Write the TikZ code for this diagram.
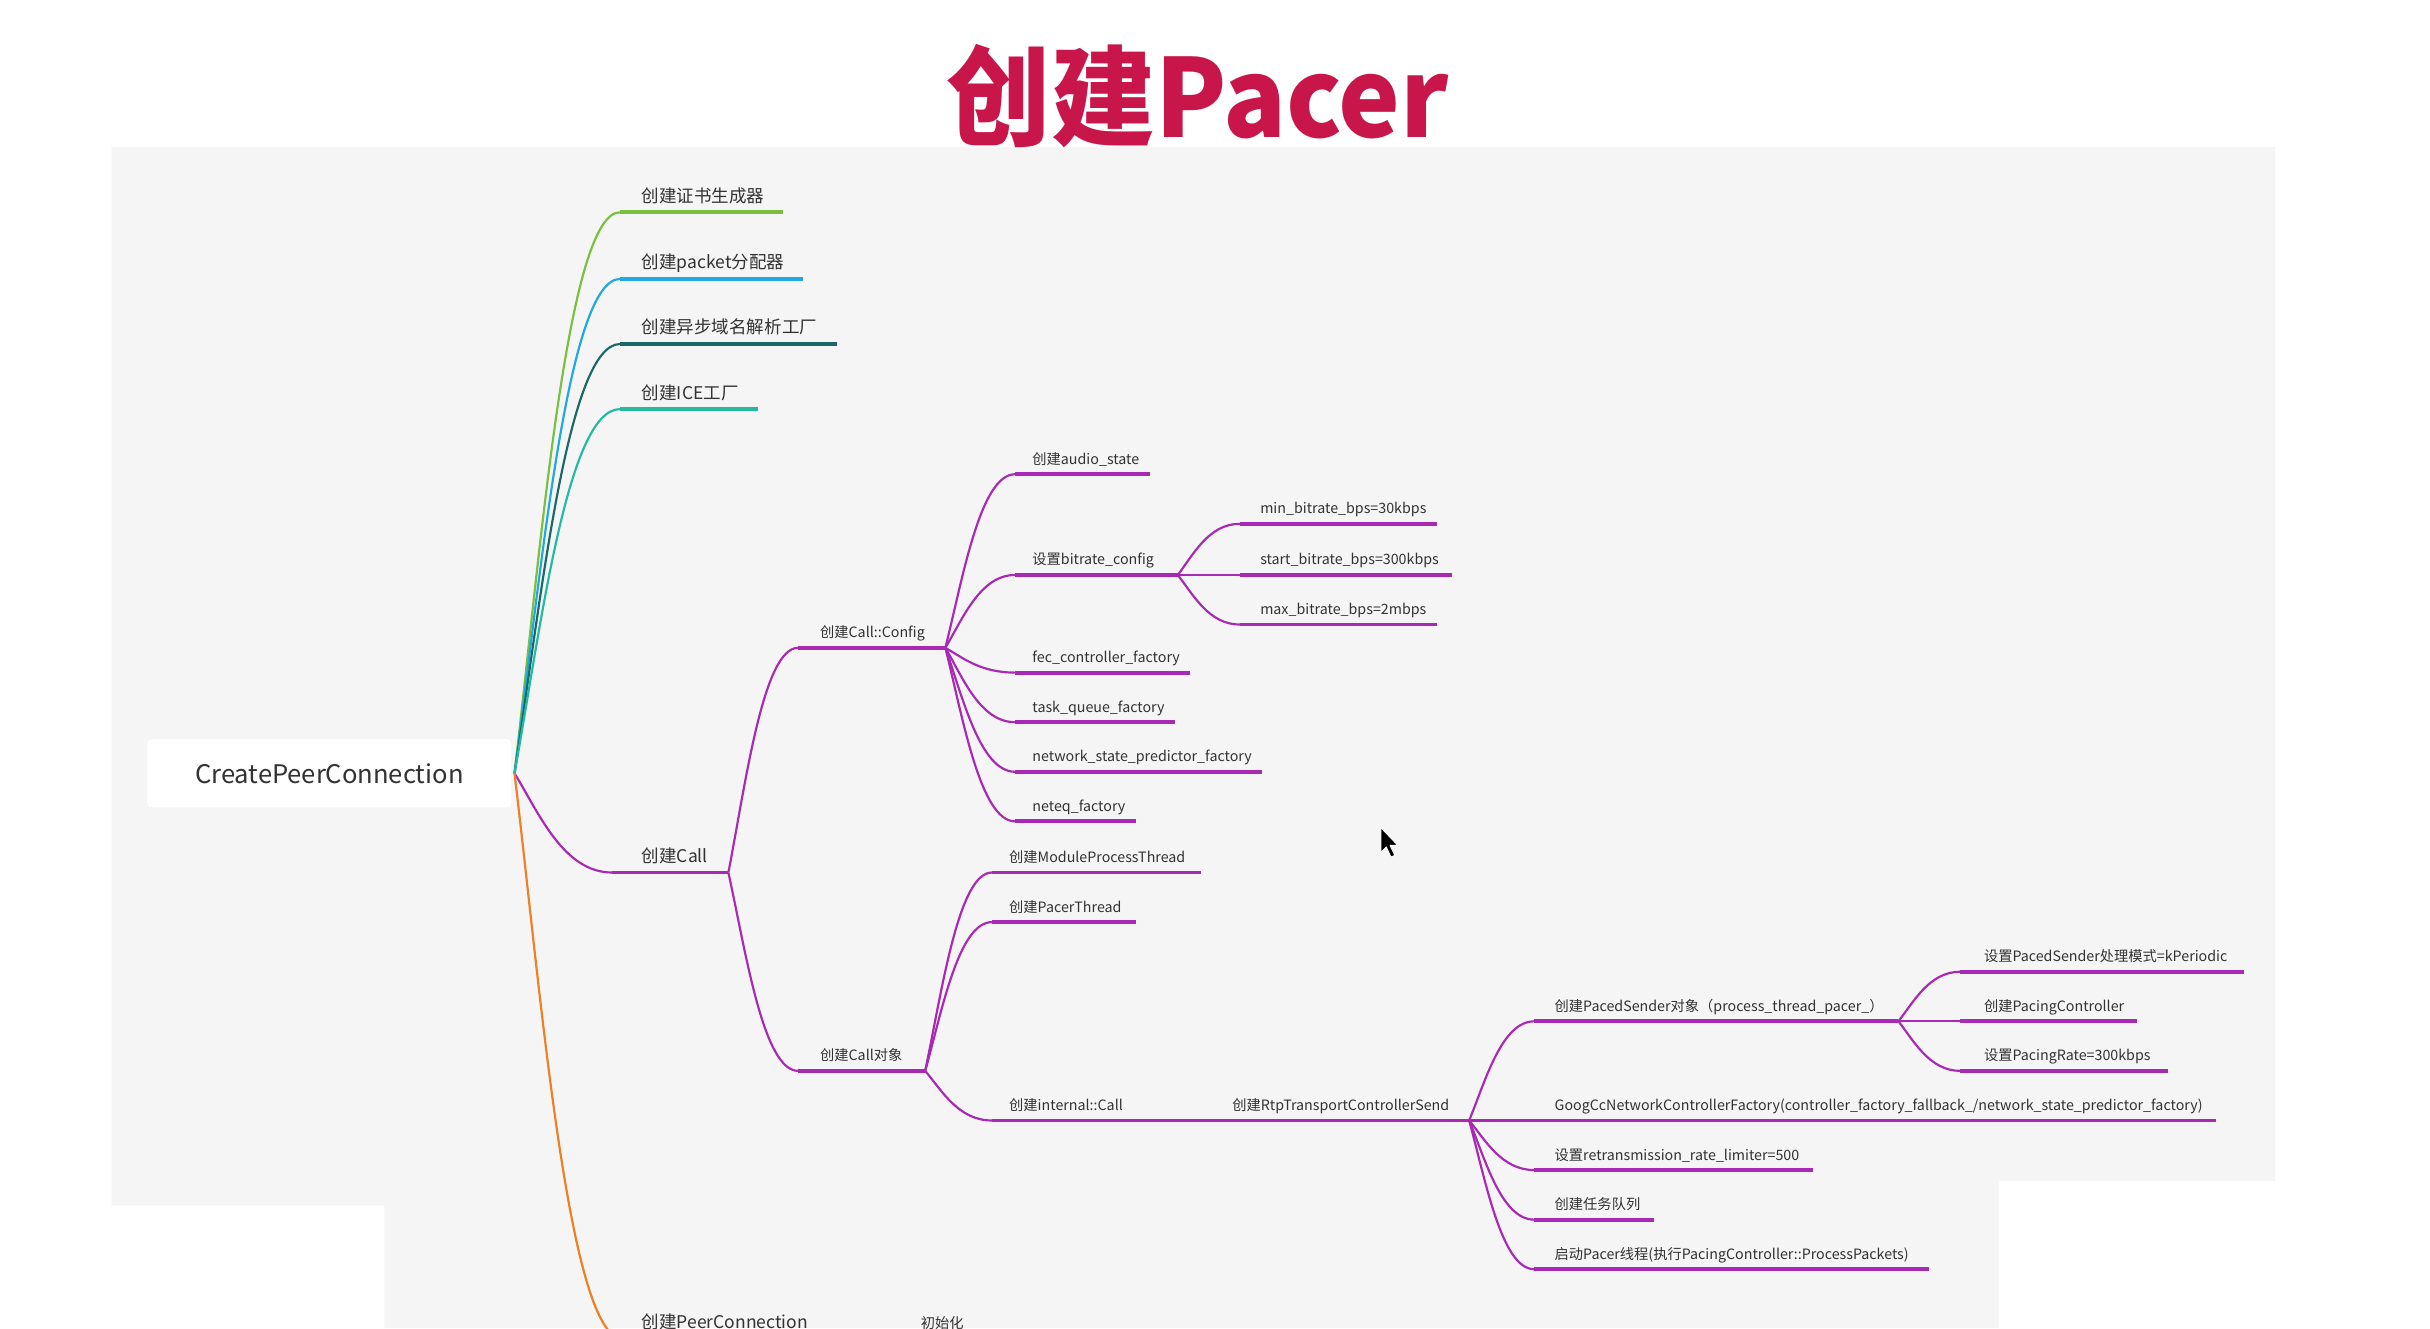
\documentclass[tikz,border=0pt]{standalone}
\usepackage{fontspec}
\setmainfont{Noto Sans CJK SC}
\usetikzlibrary{calc}
\definecolor{cpurple}{RGB}{168,42,180}
\definecolor{cgreen}{RGB}{120,192,62}
\definecolor{cblue}{RGB}{32,168,226}
\definecolor{cdteal}{RGB}{28,104,104}
\definecolor{cteal}{RGB}{36,186,160}
\definecolor{corange}{RGB}{240,126,34}
\definecolor{ctitle}{RGB}{200,22,74}
\definecolor{panel}{RGB}{245,245,245}
\definecolor{txt}{RGB}{50,50,50}
\newcommand\mmitem[8]{%
  \coordinate (#1-s) at (#3,#2);
  \coordinate (#1-e) at (#4,#2);
  \draw[ul,#7] (#1-s) -- (#1-e);
  \node[#6] (#1) at (#5,#2-6.5) {#8};}
\newcommand\mmlink[3]{%
  \draw[link,#3] let \p1=(#1), \p2=(#2) in
    (\p1) .. controls ({\x1+0.25*(\x2-\x1)},{\y1+0.4*(\y2-\y1)}) and ({\x1+0.5*(\x2-\x1)},{\y2}) .. (\p2);}
\begin{document}
\begin{tikzpicture}[x=1pt,y=-1pt,
  ul/.style={line width=2.5pt},
  link/.style={line width=1.4pt},
  lbl/.style={anchor=base west, inner sep=0pt, text=txt, font=\fontsize{9.2}{10}\selectfont},
  lbl1/.style={anchor=base west, inner sep=0pt, text=txt, font=\fontsize{11.3}{12}\selectfont}]
\useasboundingbox (0,0) rectangle (1568,857);
\clip (0,0) rectangle (1568,857);
\fill[white] (0,0) rectangle (1568,857);
\fill[panel] (72,95) -- (1468,95) -- (1468,762) -- (1290,762) -- (1290,857) -- (248,857) -- (248,778) -- (72,778) -- cycle;

% title
\node[anchor=base, inner sep=0pt, text=ctitle, font=\fontsize{70}{72}\selectfont\bfseries, xscale=0.96] (title) at (773,89) {创建Pacer};

% root
\node[fill=white, rounded corners=3pt, minimum width=235pt, minimum height=44pt, inner sep=0pt,
      text=txt, font=\fontsize{16.5}{18}\selectfont] (root) at (212.5,499) {CreatePeerConnection};
\coordinate (root-e) at (332,499);

% level 1
\mmitem{g1}{137}{400}{505}{414}{lbl1}{cgreen}{创建证书生成器}
\mmitem{g2}{180}{400}{518}{414}{lbl1}{cblue}{创建packet分配器}
\mmitem{g3}{222}{400}{540}{414}{lbl1}{cdteal}{创建异步域名解析工厂}
\mmitem{g4}{264}{400}{489}{414}{lbl1}{cteal}{创建ICE工厂}
\mmitem{call}{563}{395}{470}{414}{lbl1}{cpurple}{创建Call}
\mmitem{pcn}{864}{402}{582}{414}{lbl1}{corange}{创建PeerConnection}
\mmitem{init}{864}{582}{640}{594}{lbl}{corange}{初始化}
\mmlink{root-e}{g1-s}{cgreen}
\mmlink{root-e}{g2-s}{cblue}
\mmlink{root-e}{g3-s}{cdteal}
\mmlink{root-e}{g4-s}{cteal}
\mmlink{root-e}{call-s}{cpurple}
\mmlink{root-e}{pcn-s}{corange}

% level 2
\mmitem{cfg}{418}{515}{610}{529}{lbl}{cpurple}{创建Call::Config}
\mmitem{obj}{691}{515}{597}{529}{lbl}{cpurple}{创建Call对象}
\mmlink{call-e}{cfg-s}{cpurple}
\mmlink{call-e}{obj-s}{cpurple}

% Call::Config children
\mmitem{audio}{306}{655}{742}{666}{lbl}{cpurple}{创建audio\_state}
\mmitem{bitrate}{371}{655}{760}{666}{lbl}{cpurple}{设置bitrate\_config}
\mmitem{fec}{434}{655}{768}{666}{lbl}{cpurple}{fec\_controller\_factory}
\mmitem{tqf}{466}{655}{758}{666}{lbl}{cpurple}{task\_queue\_factory}
\mmitem{nsp}{498}{655}{814}{666}{lbl}{cpurple}{network\_state\_predictor\_factory}
\mmitem{neteq}{530}{655}{733}{666}{lbl}{cpurple}{neteq\_factory}
\mmlink{cfg-e}{audio-s}{cpurple}
\mmlink{cfg-e}{bitrate-s}{cpurple}
\mmlink{cfg-e}{fec-s}{cpurple}
\mmlink{cfg-e}{tqf-s}{cpurple}
\mmlink{cfg-e}{nsp-s}{cpurple}
\mmlink{cfg-e}{neteq-s}{cpurple}

% bitrate children
\mmitem{minb}{338}{800}{927}{813}{lbl}{cpurple}{min\_bitrate\_bps=30kbps}
\mmitem{startb}{371}{800}{937}{813}{lbl}{cpurple}{start\_bitrate\_bps=300kbps}
\mmitem{maxb}{403}{800}{927}{813}{lbl}{cpurple}{max\_bitrate\_bps=2mbps}
\mmlink{bitrate-e}{minb-s}{cpurple}
\mmlink{bitrate-e}{startb-s}{cpurple}
\mmlink{bitrate-e}{maxb-s}{cpurple}

% Call object children
\mmitem{mpt}{563}{640}{775}{651}{lbl}{cpurple}{创建ModuleProcessThread}
\mmitem{pthr}{595}{640}{733}{651}{lbl}{cpurple}{创建PacerThread}
\mmitem{icall}{723}{640}{790}{651}{lbl}{cpurple}{创建internal::Call}
\mmlink{obj-e}{mpt-s}{cpurple}
\mmlink{obj-e}{pthr-s}{cpurple}
\mmlink{obj-e}{icall-s}{cpurple}
\mmitem{rtp}{723}{790}{948}{795}{lbl}{cpurple}{创建RtpTransportControllerSend}

% Rtp children
\mmitem{ps}{659}{990}{1225}{1003}{lbl}{cpurple}{创建PacedSender对象（process\_thread\_pacer\_）}
\mmitem{goog}{723}{990}{1430}{1003}{lbl}{cpurple}{GoogCcNetworkControllerFactory(controller\_factory\_fallback\_/network\_state\_predictor\_factory)}
\mmitem{retr}{755}{990}{1170}{1003}{lbl}{cpurple}{设置retransmission\_rate\_limiter=500}
\mmitem{tq}{787}{990}{1067}{1003}{lbl}{cpurple}{创建任务队列}
\mmitem{spt}{819}{990}{1245}{1003}{lbl}{cpurple}{启动Pacer线程(执行PacingController::ProcessPackets)}
\mmlink{rtp-e}{ps-s}{cpurple}
\mmlink{rtp-e}{goog-s}{cpurple}
\mmlink{rtp-e}{retr-s}{cpurple}
\mmlink{rtp-e}{tq-s}{cpurple}
\mmlink{rtp-e}{spt-s}{cpurple}

% PacedSender children
\mmitem{mode}{627}{1265}{1448}{1280}{lbl}{cpurple}{设置PacedSender处理模式=kPeriodic}
\mmitem{pctl}{659}{1265}{1379}{1280}{lbl}{cpurple}{创建PacingController}
\mmitem{prate}{691}{1265}{1399}{1280}{lbl}{cpurple}{设置PacingRate=300kbps}
\mmlink{ps-e}{mode-s}{cpurple}
\mmlink{ps-e}{pctl-s}{cpurple}
\mmlink{ps-e}{prate-s}{cpurple}

% mouse cursor
\filldraw[fill=black, draw=white, line width=0.6pt, line join=round]
  (891,534) -- (891,550) -- (894.5,546.5) -- (897.5,553) -- (900,552) -- (897,545.5) -- (902,545.5) -- cycle;
\end{tikzpicture}
\end{document}
